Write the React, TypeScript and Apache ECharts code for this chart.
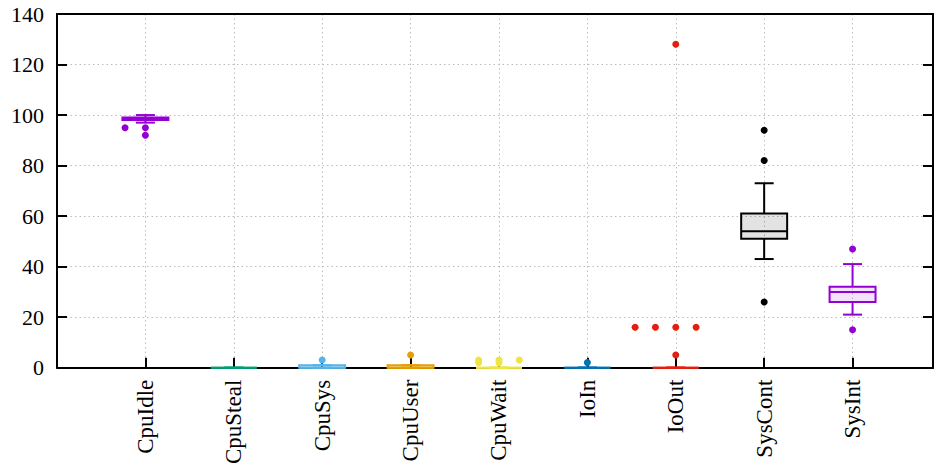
import React, { useEffect, useRef } from 'react';
import * as echarts from 'echarts';

const categories = ['CpuIdle', 'CpuSteal', 'CpuSys', 'CpuUser', 'CpuWait', 'IoIn', 'IoOut', 'SysCont', 'SysInt'];
const boxMin = [97, 0, 0, 0, 0, 0, 0, 43, 21];
const boxQ1 = [98, 0, 0, 0, 0, 0, 0, 51, 26];
const boxMedian = [98.5, 0, 0, 0, 0, 0, 0, 54, 30];
const boxQ3 = [99, 0, 1, 1, 0, 0, 0, 61, 32];
const boxMax = [100, 0, 1, 1, 0, 0, 0, 73, 41];
const outliers: number[][] = [
  [95, 95, 92],
  [],
  [3],
  [5],
  [3, 3, 3, 2, 2],
  [2],
  [128, 16, 16, 16, 16, 5],
  [94, 82, 26],
  [47, 15],
];
const seriesColors = ['#9400d3', '#009e73', '#56b4e9', '#e69f00', '#f0e442', '#0072b2', '#e51e10', '#000000', '#9400d3'];

const FONT = 'Liberation Serif';

export default function App() {
  const ref = useRef<HTMLDivElement>(null);
  useEffect(() => {
    if (!ref.current) return;
    const chart = echarts.init(ref.current, null, { renderer: 'svg' });

    const boxData = categories.map((_, i) => [i + 1, boxMin[i], boxQ1[i], boxMedian[i], boxQ3[i], boxMax[i], i]);

    const jitterStep = 0.23;
    const outlierData: number[][] = [];
    outliers.forEach((vals, i) => {
      const seen: Record<string, number> = {};
      vals.forEach((v) => {
        const k = seen[v] || 0;
        seen[v] = k + 1;
        const off = k === 0 ? 0 : k % 2 === 1 ? -(k + 1) / 2 : k / 2;
        outlierData.push([i + 1 + off * jitterStep, v, i]);
      });
    });

    const gridLine = { show: true, lineStyle: { color: '#bcbcbc', type: [1.5, 3] as any, width: 1 } };

    chart.setOption({
      animation: false,
      backgroundColor: '#fff',
      grid: { left: 57, right: 1, top: 14, bottom: 99, containLabel: false },
      xAxis: [
        {
          type: 'value',
          min: 0,
          max: 9.91,
          interval: 1,
          position: 'bottom',
          axisLine: { show: true, onZero: false, lineStyle: { color: '#000', width: 2 } },
          axisTick: { show: true, inside: true, length: 10, lineStyle: { color: '#000', width: 2 } },
          axisLabel: {
            show: true,
            rotate: 90,
            margin: 12,
            fontFamily: FONT,
            fontSize: 23,
            color: '#000',
            showMinLabel: true,
            showMaxLabel: true,
            formatter: (v: number) => {
              const r = Math.round(v);
              return Math.abs(v - r) < 1e-6 && r >= 1 && r <= categories.length ? categories[r - 1] : '';
            },
          },
          splitLine: gridLine,
        },
        {
          type: 'value',
          min: 0,
          max: 9.91,
          interval: 1,
          position: 'top',
          axisLine: { show: true, onZero: false, lineStyle: { color: '#000', width: 2 } },
          axisTick: { show: false },
          axisLabel: { show: false },
          splitLine: { show: false },
        },
      ],
      yAxis: [
        {
          type: 'value',
          min: 0,
          max: 140,
          interval: 20,
          position: 'left',
          axisLine: { show: true, onZero: false, lineStyle: { color: '#000', width: 2 } },
          axisTick: { show: true, inside: true, length: 10, lineStyle: { color: '#000', width: 2 } },
          axisLabel: { show: true, margin: 13, fontFamily: FONT, fontSize: 22, color: '#000' },
          splitLine: gridLine,
        },
        {
          type: 'value',
          min: 0,
          max: 140,
          interval: 20,
          position: 'right',
          axisLine: { show: true, onZero: false, lineStyle: { color: '#000', width: 2 } },
          axisTick: { show: true, inside: true, length: 10, lineStyle: { color: '#000', width: 2 } },
          axisLabel: { show: false },
          splitLine: { show: false },
        },
      ],
      series: [
        {
          type: 'custom',
          xAxisIndex: 0,
          yAxisIndex: 0,
          clip: false,
          encode: { x: 0, y: [1, 2, 3, 4, 5] },
          data: boxData,
          renderItem: (params: any, api: any) => {
            const x = api.value(0);
            const c = (v: number) => api.coord([x, v]);
            const pMin = c(api.value(1));
            const pQ1 = c(api.value(2));
            const pMed = c(api.value(3));
            const pQ3 = c(api.value(4));
            const pMax = c(api.value(5));
            const color = seriesColors[api.value(6)];
            const bw = api.size([0.52, 0])[0];
            const cw = api.size([0.215, 0])[0];
            const cx = pMed[0];
            const st = { stroke: color, lineWidth: 2, fill: null };
            return {
              type: 'group',
              children: [
                { type: 'line', shape: { x1: cx, y1: pMax[1], x2: cx, y2: pQ3[1] }, style: st },
                { type: 'line', shape: { x1: cx, y1: pQ1[1], x2: cx, y2: pMin[1] }, style: st },
                { type: 'line', shape: { x1: cx - cw / 2, y1: pMax[1], x2: cx + cw / 2, y2: pMax[1] }, style: st },
                { type: 'line', shape: { x1: cx - cw / 2, y1: pMin[1], x2: cx + cw / 2, y2: pMin[1] }, style: st },
                {
                  type: 'rect',
                  shape: { x: cx - bw / 2, y: pQ3[1], width: bw, height: pQ1[1] - pQ3[1] },
                  style: { fill: echarts.color.modifyAlpha(color, 0.11), stroke: color, lineWidth: 2 },
                },
                { type: 'line', shape: { x1: cx - bw / 2, y1: pMed[1], x2: cx + bw / 2, y2: pMed[1] }, style: st },
              ],
            };
          },
        },
        {
          type: 'scatter',
          xAxisIndex: 0,
          yAxisIndex: 0,
          symbol: 'circle',
          symbolSize: 7,
          clip: false,
          data: outlierData,
          itemStyle: { color: (p: any) => seriesColors[p.data[2]], opacity: 1 },
        },
      ],
    });
    return () => chart.dispose();
  }, []);
  return <div ref={ref} style={{ position: 'fixed', left: 0, top: 0, width: 934, height: 467 }} />;
}
